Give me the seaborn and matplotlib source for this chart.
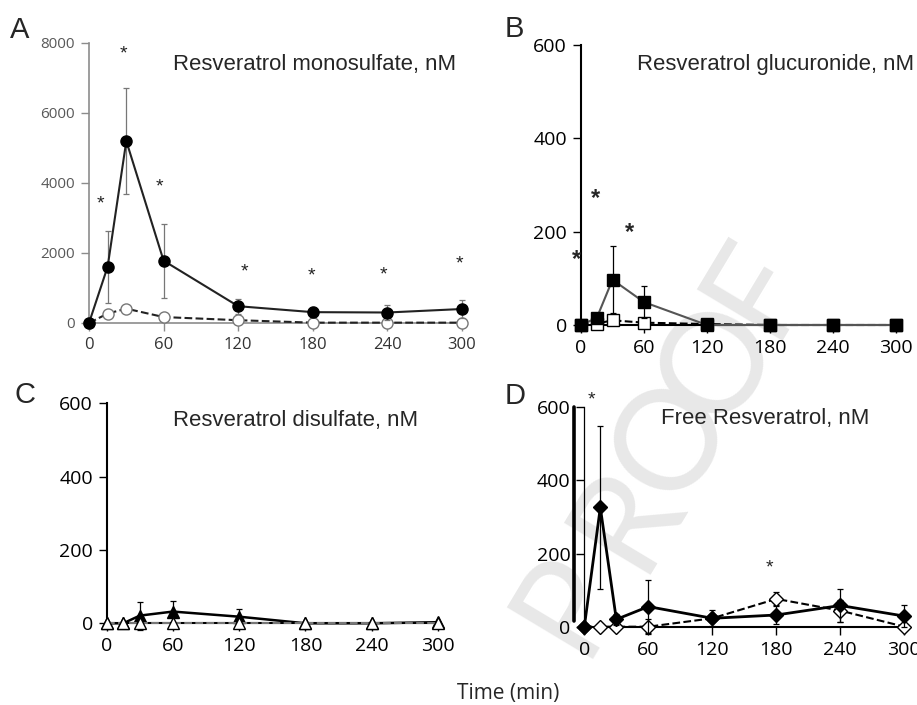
import numpy as np
import pandas as pd
import matplotlib
matplotlib.use("Agg")
import matplotlib.pyplot as plt
import seaborn as sns

# sampling times (min)
time_min = [0, 15, 30, 60, 120, 180, 240, 300]
x_ticks = [0, 60, 120, 180, 240, 300]

# A - monosulfate (filled = treated, open = control)
mono_treated = [0, 1610, 5200, 1780, 480, 310, 300, 400]
mono_treated_sd = [0, 1030, 1510, 1060, 220, 150, 220, 250]
mono_control = [0, 270, 410, 170, 80, 10, 10, 10]
mono_control_sd = [0, 60, 90, 60, 40, 20, 20, 20]
mono_stars_x = [9, 28, 57, 125, 179, 237, 298]
mono_stars_y = [3400, 7700, 3900, 1470, 1350, 1380, 1700]

# B - glucuronide
gluc_treated = [0, 15, 97, 49, 0, 0, 0, 0]
gluc_treated_sd = [0, 11, 72, 35, 0, 0, 0, 0]
gluc_control = [0, 3, 10, 5, 2, 0, 0, 0]
gluc_control_sd = [0, 2, 10, 3, 0, 0, 0, 0]
gluc_stars_x = [-4, 14, 46]
gluc_stars_y = [140, 270, 199]

# C - disulfate
di_treated = [0, 0, 21, 32, 18, 0, 0, 3]
di_treated_sd = [0, 0, 38, 30, 20, 0, 0, 0]
di_control = [0, 0, 0, 0, 0, 0, 0, 0]
di_control_sd = [0, 0, 0, 0, 0, 0, 0, 0]

# D - free resveratrol
free_treated = [0, 326, 20, 55, 23, 32, 58, 29]
free_treated_sd = [0, 224, 16, 73, 0, 24, 44, 29]
free_control = [0, 0, 0, 0, 23, 76, 44, 0]
free_control_sd = [0, 0, 0, 20, 22, 18, 30, 0]
free_stars_x = [7, 174]
free_stars_y = [620, 160]

W, H = 917, 705


def px(x, y):
    return x / W, 1 - y / H


def draw_series(ax, y, sd, marker, face, line_color, ls, lw=1.5, ms=8,
                edge="black", err_color="black", z=3):
    ax.errorbar(time_min, y, yerr=sd, fmt="none", ecolor=err_color,
                elinewidth=0.9, capsize=2.5, capthick=0.9, zorder=z, clip_on=False)
    sns.lineplot(x=time_min, y=y, ax=ax, color=line_color, linestyle=ls, lw=lw,
                 marker=marker, markersize=ms, markerfacecolor=face,
                 markeredgecolor=edge, markeredgewidth=1.0, zorder=z + 1,
                 clip_on=False)


def style_axes(ax, yticks, ylim, color="black", labelcolor="black", size=14, lw=1.5):
    sns.despine(ax=ax)
    ax.set_facecolor("none")
    ax.set_xlim(0, 300)
    ax.set_ylim(*ylim)
    ax.set_xticks(x_ticks)
    ax.set_yticks(yticks)
    ax.set_xlabel("")
    ax.set_ylabel("")
    for s in ("left", "bottom"):
        ax.spines[s].set_color(color)
        ax.spines[s].set_linewidth(lw)
    ax.spines["bottom"].set_zorder(2)
    ax.tick_params(axis="both", direction="out", length=6, width=1,
                   color=color, labelcolor=labelcolor, labelsize=size, pad=4)
    ax.grid(False)


sns.set_theme(style="ticks")
plt.rcParams["font.family"] = ["Open Sans", "DejaVu Sans"]

fig = plt.figure(figsize=(W / 100, H / 100), dpi=100)

# "PROOF" watermark, one letter at a time
for ch, (cx, cy) in zip("PROOF", [(568, 603), (627, 517), (672, 440),
                                  (718, 363), (757, 287)]):
    fig.text(*px(cx, cy), ch, rotation=59, rotation_mode="anchor",
             ha="center", va="center", fontsize=100, color="#e8e8e8",
             family="Lato", fontweight="normal", zorder=-1)

axA = fig.add_axes([89 / W, 1 - 323 / H, 373 / W, 280 / H])
axB = fig.add_axes([581 / W, 1 - 325 / H, 315 / W, 280 / H])
axC = fig.add_axes([106.7 / W, 1 - 623.3 / H, 331.3 / W, 220 / H])
axD = fig.add_axes([574.3 / W, 1 - 626.7 / H, 330 / W, 219.4 / H])

# A
draw_series(axA, mono_control, mono_control_sd, "o", "white", "#222222", "--",
            edge="#777777", err_color="#888888")
draw_series(axA, mono_treated, mono_treated_sd, "o", "black", "#222222", "-",
            err_color="#777777", z=5)
style_axes(axA, [0, 2000, 4000, 6000, 8000], (0, 8000), color="#8c8c8c",
           labelcolor="#595959", size=11, lw=1.2)
axA.tick_params(axis="x", labelsize=12, labelcolor="#333333")
for sx, sy in zip(mono_stars_x, mono_stars_y):
    axA.text(sx, sy, "*", ha="center", va="center", fontsize=14,
             family="Liberation Sans", color="#222222")

# B
draw_series(axB, gluc_control, gluc_control_sd, "s", "white", "black", "--")
draw_series(axB, gluc_treated, gluc_treated_sd, "s", "black", "#555555", "-", z=5)
style_axes(axB, [0, 200, 400, 600], (0, 600))
for sx, sy in zip(gluc_stars_x, gluc_stars_y):
    axB.text(sx, sy, "*", ha="center", va="center", fontsize=17,
             family="Liberation Sans", fontweight="bold", clip_on=False)

# C
draw_series(axC, di_treated, di_treated_sd, "^", "black", "black", "-", ms=9, lw=1.8)
draw_series(axC, di_control, di_control_sd, "^", "white", "#777777", "--", ms=9, z=5)
style_axes(axC, [0, 200, 400, 600], (0, 600))

# D
draw_series(axD, free_control, free_control_sd, "D", "white", "black", "--", ms=7)
draw_series(axD, free_treated, free_treated_sd, "D", "black", "black", "-", ms=7,
            lw=2, z=5)
style_axes(axD, [0, 200, 400, 600], (0, 600))
axD.set_xlim(-9.4, 300)
axD.spines["left"].set_position(("data", 0))
axD.spines["left"].set_linewidth(0.9)
axD.spines["bottom"].set_bounds(0, 300)
axD.axvline(-9.4, ymin=0.025, ymax=1, color="black", lw=2.6, clip_on=False)
for sx, sy in zip(free_stars_x, free_stars_y):
    axD.text(sx, sy, "*", ha="center", va="center", fontsize=14,
             family="Liberation Sans", clip_on=False)

# panel letters and titles
for letter, (lx, ly) in zip("ABCD", [(10, 38), (505, 37), (14, 403), (505, 404)]):
    fig.text(*px(lx, ly), letter, fontsize=21, family="Liberation Sans",
             ha="left", va="baseline")
titles = ["Resveratrol monosulfate, nM", "Resveratrol glucuronide, nM",
          "Resveratrol disulfate, nM", "Free Resveratrol, nM"]
for t, (tx, ty) in zip(titles, [(173, 70), (637, 70), (173, 426), (661, 424)]):
    fig.text(*px(tx, ty), t, fontsize=15.9, family="Liberation Sans",
             ha="left", va="baseline")

fig.text(*px(457, 699), "Time (min)", fontsize=15, ha="left", va="baseline")

fig.savefig("out.png", dpi=100)
